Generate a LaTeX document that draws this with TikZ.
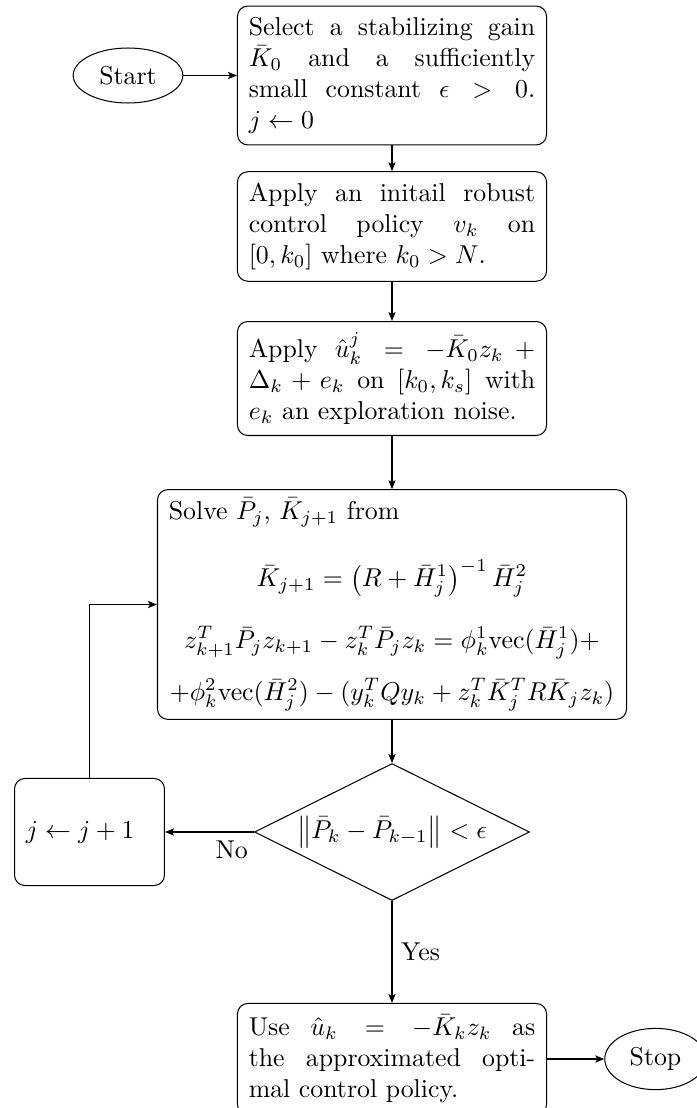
\documentclass[tikz,border=0pt]{standalone}
\usetikzlibrary{shapes.geometric,arrows.meta}
\begin{document}
\begin{tikzpicture}[x=0.3876pt,y=-0.3876pt,
  box/.style={draw, rounded corners=4pt, text width=111pt, inner sep=4.4pt, align=justify},
  term/.style={draw, ellipse, inner sep=3.9pt},
  arr/.style={-{Stealth[length=3.5pt,width=2.8pt,inset=0.8pt]}},
]
\useasboundingbox (0,0) rectangle (697,1108);
\node[term] (start) at (128,75.5) {Start};
\node[box] (b1) at (392,75.5) {Select a stabilizing gain $\bar{K}_0$ and a sufficiently small constant $\epsilon > 0$.\linebreak \mbox{$j \leftarrow 0$}};
\node[box] (b2) at (392,226.5) {Apply an initail robust control policy $v_k$ on\linebreak $[0,k_0]$ where $k_0>N$.};
\node[box] (b3) at (392,378.5) {Apply $\hat{u}_k^j = -\bar{K}_0 z_k + \Delta_k + e_k$ on $[k_0,k_s]$ with $e_k$ an exploration noise.};
\node[box, text width=173pt, inner ysep=3.3pt, align=left] (b4) at (392,604.5) {\lineskiplimit=-\maxdimen
Solve $\bar{P}_j$, $\bar{K}_{j+1}$ from\par
\baselineskip=26.2pt
\noindent\makebox[\linewidth]{$\displaystyle \bar{K}_{j+1} = \left(R+\bar{H}_j^1\right)^{-1}\bar{H}_j^2$}\par
\baselineskip=24pt
\noindent\makebox[\linewidth]{$\displaystyle z_{k+1}^T\bar{P}_j z_{k+1} - z_k^T\bar{P}_j z_k = \phi_k^1\mathrm{vec}(\bar{H}_j^1)+$}\par
\baselineskip=20.2pt
\noindent\makebox[\linewidth]{$\displaystyle +\phi_k^2\mathrm{vec}(\bar{H}_j^2) - (y_k^TQy_k + z_k^T\bar{K}_j^TR\bar{K}_jz_k)$}\par};
\node[draw, diamond, aspect=2, inner sep=0pt, minimum width=106.6pt, minimum height=53.1pt] (dec) at (392,832) {$\left\|\bar{P}_k - \bar{P}_{k-1}\right\| < \epsilon$};
\node[box, text width=49.3pt, minimum height=41.5pt, align=left] (jbox) at (89.5,832) {$j \leftarrow j+1$};
\node[box] (b5) at (392,1059) {Use $\hat{u}_k = -\bar{K}_k z_k$ as the approximated optimal control policy.};
\node[term] (stop) at (655.5,1059) {Stop};
\draw[arr] (start) -- (b1);
\draw[arr] (b1) -- (b2);
\draw[arr] (b2) -- (b3);
\draw[arr] (b3) -- (b4);
\draw[arr] (b4) -- (dec);
\draw[arr] (dec.west) -- node[near start, below] {No} (jbox.east);
\draw[arr] (dec) -- node[midway, right] {Yes} (b5);
\draw[arr] (jbox.north) |- (b4.west);
\draw[arr] (b5) -- (stop);
\end{tikzpicture}
\end{document}
